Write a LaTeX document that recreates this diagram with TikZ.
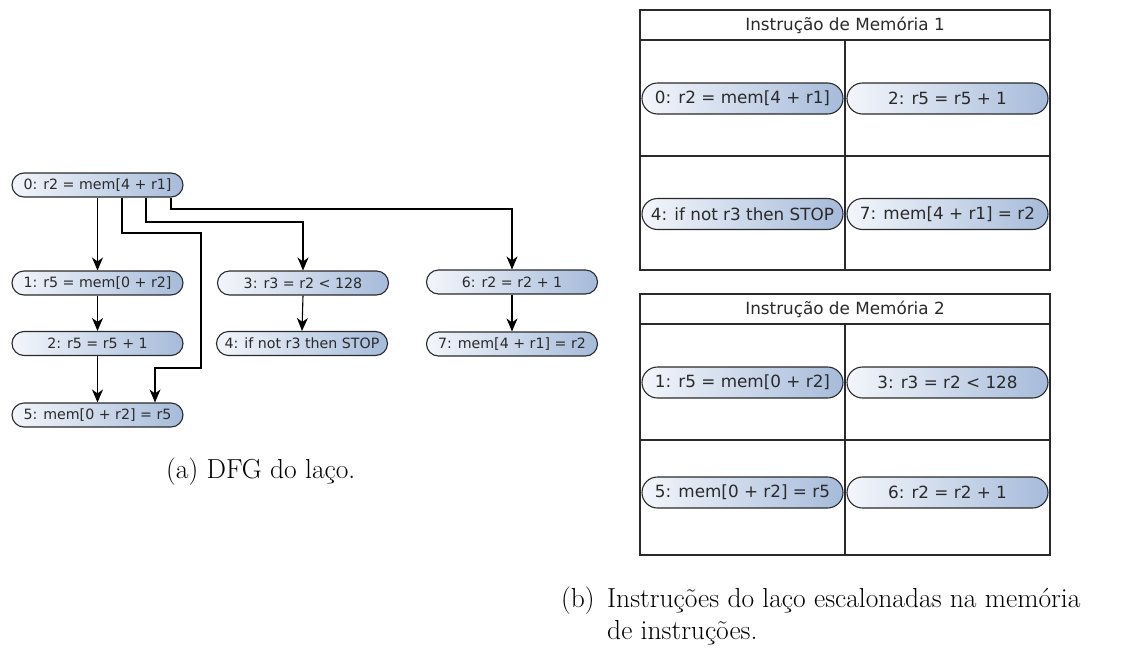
\documentclass[tikz,border=0pt]{standalone}
\usepackage{fontspec}
\newfontfamily\opfont{DejaVu Sans}
\usetikzlibrary{shapes.misc,arrows.meta}
\definecolor{pillL}{HTML}{F3F6FB}
\definecolor{pillR}{HTML}{A6BBDA}
\definecolor{ink}{HTML}{2A2A2A}
\tikzset{
  op/.style={rounded rectangle, draw=ink, line width=1.1pt,
    left color=pillL, right color=pillR,
    minimum height=24pt, minimum width=171pt, inner sep=0pt,
    text=ink, font=\opfont\fontsize{14.2}{16}\selectfont},
  cellop/.style={op, minimum height=31pt, minimum width=201pt,
    font=\opfont\fontsize{16.8}{19}\selectfont},
  hdr/.style={text=ink, inner sep=0pt, font=\opfont\fontsize{16.8}{19}\selectfont},
  flow/.style={draw=black, line width=1.1pt,
    -{Stealth[length=13pt,width=11pt,inset=4pt]}},
  grid/.style={draw=ink, line width=1.4pt},
  caption/.style={inner sep=0pt, anchor=base west,
    font=\fontsize{27.5}{33}\selectfont},
}
\begin{document}
\begin{tikzpicture}[x=1pt, y=-1pt]
\useasboundingbox[fill=white] (0,0) rectangle (1141,659);

% ---------- data-flow graph of the loop ----------
\node[op] (n0) at (97.5,185)   {0: r2 = mem[4 + r1]};
\node[op] (n1) at (97.5,283)   {1: r5 = mem[0 + r2]};
\node[op] (n2) at (97.5,343.5) {2: r5 = r5 + 1};
\node[op] (n5) at (97.5,415)   {5: mem[0 + r2] = r5};
\node[op] (n3) at (303,283)    {3: r3 = r2 < 128};
\node[op] (n4) at (302,343.5)  {4: if not r3 then STOP};
\node[op] (n6) at (512,282)    {6: r2 = r2 + 1};
\node[op] (n7) at (512,344)    {7: mem[4 + r1] = r2};

\coordinate (k5a) at (201,233);
\coordinate (k5b) at (155,368);
\coordinate (k3)  at (0,222);
\coordinate (k6)  at (0,209);

\draw[flow] (n0.south) -- (n1.north);
\draw[flow] (n1.south) -- (n2.north);
\draw[flow] (n2.south) -- (n5.north);
\draw[flow] ([xshift=24.5pt]n0.south) |- (k5a) |- (k5b) -- (k5b |- n5.north);
\draw[flow] ([xshift=48.5pt]n0.south) |- (n3.north |- k3) -- (n3.north);
\draw[flow] ([xshift=73.5pt]n0.south) |- (n6.north |- k6) -- (n6.north);
\draw[flow] (n3.south) -- (n4.north);
\draw[flow] (n6.south) -- (n7.north);

\node[caption] (capa) at (166,478) {(a) DFG do laço.};

% ---------- instruction memory 1 ----------
\draw[grid] (640,10) rectangle (1050,270);
\draw[grid] (640,40) -- (1050,40);
\draw[grid] (640,156) -- (1050,156);
\draw[grid] (845,40) -- (845,270);
\node[hdr] (h1) at (845,25) {Instrução de Memória 1};
\node[cellop] (a0) at (742.5,98.5) {0: r2 = mem[4 + r1]};
\node[cellop] (a2) at (947.5,98.5) {2: r5 = r5 + 1};
\node[cellop] (a4) at (742.5,214)  {4: if not r3 then STOP};
\node[cellop] (a7) at (947.5,214)  {7: mem[4 + r1] = r2};

% ---------- instruction memory 2 ----------
\draw[grid] (640,294) rectangle (1050,555);
\draw[grid] (640,324) -- (1050,324);
\draw[grid] (640,440) -- (1050,440);
\draw[grid] (845,324) -- (845,555);
\node[hdr] (h2) at (845,309) {Instrução de Memória 2};
\node[cellop] (b1) at (742.5,382.5) {1: r5 = mem[0 + r2]};
\node[cellop] (b3) at (947.5,382.5) {3: r3 = r2 < 128};
\node[cellop] (b5) at (742.5,492.5) {5: mem[0 + r2] = r5};
\node[cellop] (b6) at (947.5,492.5) {6: r2 = r2 + 1};

\node[caption] (capb) at (561,607) {(b)};
\node[caption] (capb1) at (607,607) {Instruções do laço escalonadas na memória};
\node[caption] (capb2) at (607,639) {de instruções.};
\end{tikzpicture}
\end{document}
